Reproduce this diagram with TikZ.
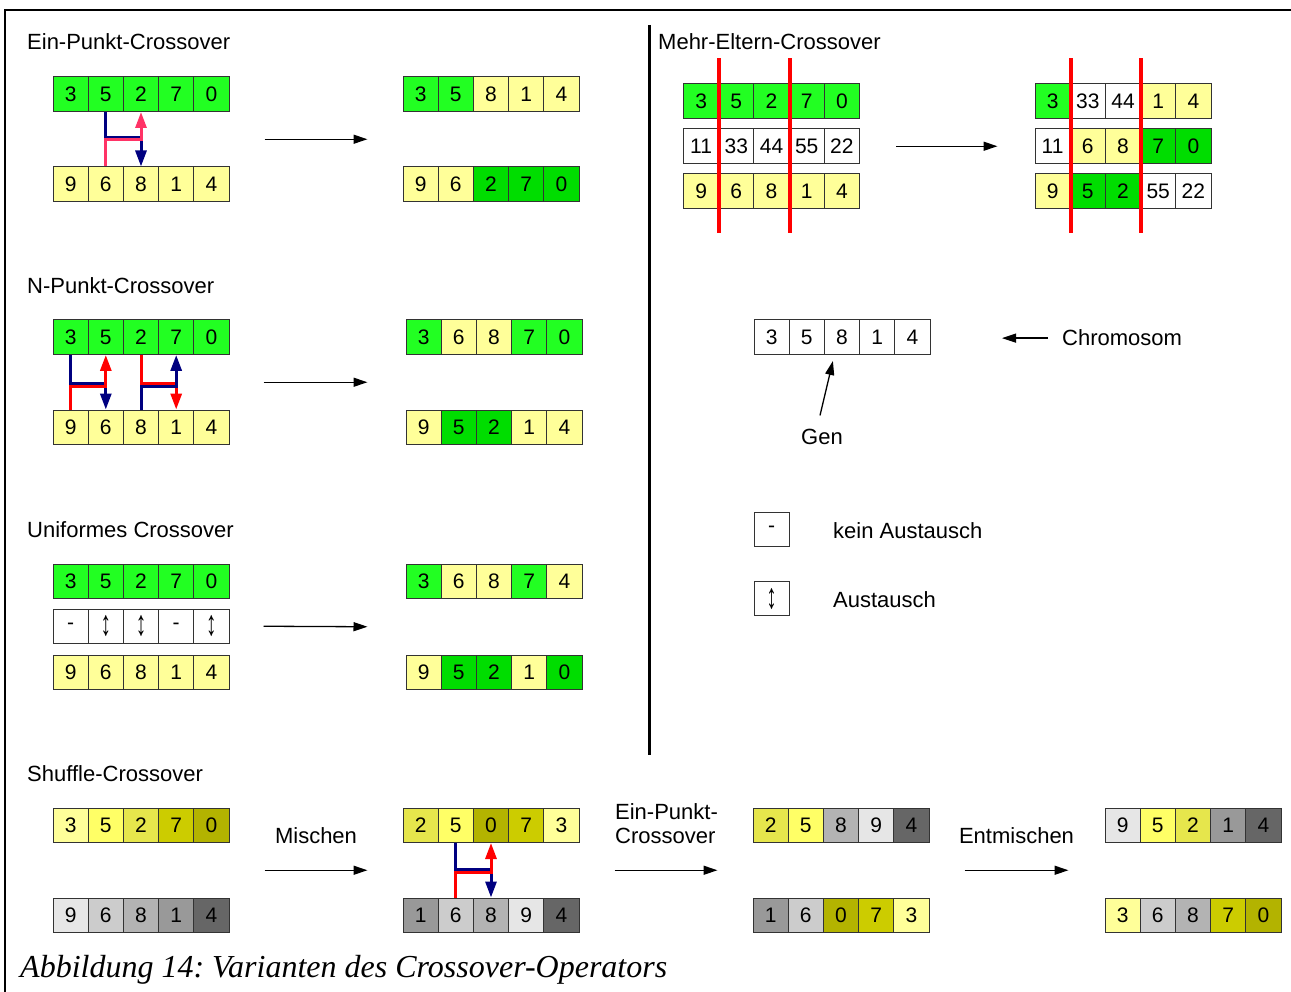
\documentclass[tikz,border=0pt]{standalone}
\usepackage{fontspec}
\setmainfont{Liberation Sans}
\newfontfamily\captionserif{Liberation Serif}
\usepackage{tikz}
\usetikzlibrary{arrows.meta, calc}
\definecolor{gn}{HTML}{22FF22}
\definecolor{dg}{HTML}{00DD00}
\definecolor{yl}{HTML}{FFFF99}
\definecolor{wt}{HTML}{FFFFFF}
\definecolor{xblue}{HTML}{000080}
\definecolor{xpink}{HTML}{FF3366}
\definecolor{xred}{HTML}{FF0000}
% shuffle shades: yellows of parent 1, greys of parent 2
\definecolor{y1}{HTML}{FFFF99}
\definecolor{y2}{HTML}{FFFF66}
\definecolor{y3}{HTML}{E6E64C}
\definecolor{y4}{HTML}{CCCC00}
\definecolor{y5}{HTML}{B3B300}
\definecolor{g1}{HTML}{E6E6E6}
\definecolor{g2}{HTML}{CCCCCC}
\definecolor{g3}{HTML}{B3B3B3}
\definecolor{g4}{HTML}{999999}
\definecolor{g5}{HTML}{666666}
\tikzset{
  gene/.style={draw=black!80, line width=1pt, minimum width=35.2pt,
    minimum height=34.5pt, inner sep=0pt, font=\fontsize{21}{24}\selectfont},
  heading/.style={anchor=base west, inner sep=0pt, font=\fontsize{22}{24}\selectfont},
  steplabel/.style={inner sep=0pt, font=\fontsize{22}{24}\selectfont},
  flow/.style={line width=1.3pt, -{Triangle[length=14pt,width=9pt]}},
  swapline/.style={line width=3pt, -{Triangle[length=16pt,width=11pt]}},
  cut/.style={xred, line width=4pt},
}
\newcommand{\updown}{\scalebox{1}[1.7]{↕}}
\newcommand{\chrom}[4]{% name, x-left, y-top, {colour/value, ...}
  \foreach \cl/\vl [count=\i] in {#4}
    \node[gene, fill=\cl] (#1-\i) at (#2+35.2*\i-17.6, #3+17.25) {\vl};
}

\begin{document}
\begin{tikzpicture}[x=1pt, y=-1pt]
  \useasboundingbox (0,0) rectangle (1291,992);
  \draw[line width=1.5pt] (5,992) -- (5,10) -- (1291,10);
  \draw[line width=3pt] (649,25) -- (649,755);

  % Ein-Punkt-Crossover
  \node[heading] (t-ep) at (27,50) {Ein-Punkt-Crossover};
  \chrom{ep1}{53}{77}{gn/3,gn/5,gn/2,gn/7,gn/0}
  \chrom{ep2}{53}{167}{yl/9,yl/6,yl/8,yl/1,yl/4}
  \chrom{ep3}{403}{77}{gn/3,gn/5,yl/8,yl/1,yl/4}
  \chrom{ep4}{403}{167}{yl/9,yl/6,dg/2,dg/7,dg/0}
  \draw[swapline, xblue] (ep1-2.south) |- ([yshift=-26pt]ep1-3.south) -- (ep2-3.north);
  \draw[swapline, xpink] (ep2-2.north) |- ([yshift=27pt]ep2-3.north) -- (ep1-3.south);
  \draw[flow] ($(ep1-5.east)!.5!(ep2-5.east)+(35,0)$) -- ($(ep3-1.west)!.5!(ep4-1.west)+(-35,0)$);

  % N-Punkt-Crossover, two cut points
  \node[heading] (t-np) at (27,294) {N-Punkt-Crossover};
  \chrom{np1}{53}{320}{gn/3,gn/5,gn/2,gn/7,gn/0}
  \chrom{np2}{53}{410}{yl/9,yl/6,yl/8,yl/1,yl/4}
  \chrom{np3}{406}{320}{gn/3,yl/6,yl/8,gn/7,gn/0}
  \chrom{np4}{406}{410}{yl/9,dg/5,dg/2,yl/1,yl/4}
  \draw[swapline, xblue] (np1-1.south) |- ([yshift=-29pt]np1-2.south) -- (np2-2.north);
  \draw[swapline, xred] (np2-1.north) |- ([yshift=23pt]np2-2.north) -- (np1-2.south);
  \draw[swapline, xred] (np1-3.south) |- ([yshift=-29pt]np1-4.south) -- (np2-4.north);
  \draw[swapline, xblue] (np2-3.north) |- ([yshift=23pt]np2-4.north) -- (np1-4.south);
  \draw[flow] ($(np1-5.east)!.5!(np2-5.east)+(34,0)$) -- ($(np3-1.west)!.5!(np4-1.west)+(-38,0)$);

  % Uniformes Crossover with mask row
  \node[heading] (t-uc) at (27,537) {Uniformes Crossover};
  \chrom{uc1}{53}{564}{gn/3,gn/5,gn/2,gn/7,gn/0}
  \chrom{ucm}{53}{609}{wt/-,wt/\updown,wt/\updown,wt/-,wt/\updown}
  \chrom{uc2}{53}{655}{yl/9,yl/6,yl/8,yl/1,yl/4}
  \chrom{uc3}{406}{564}{gn/3,yl/6,yl/8,gn/7,yl/4}
  \chrom{uc4}{406}{655}{yl/9,dg/5,dg/2,yl/1,dg/0}
  \draw[flow] ($(ucm-5.east)+(34,0)$) -- ($(uc3-1.west)!.5!(uc4-1.west)+(-38,0)$);

  % Shuffle-Crossover: mix, cross, unmix
  \node[heading] (t-sc) at (27,781) {Shuffle-Crossover};
  \chrom{sc1}{53}{808}{y1/3,y2/5,y3/2,y4/7,y5/0}
  \chrom{sc2}{53}{898}{g1/9,g2/6,g3/8,g4/1,g5/4}
  \chrom{sc3}{403}{808}{y3/2,y2/5,y5/0,y4/7,y1/3}
  \chrom{sc4}{403}{898}{g4/1,g2/6,g3/8,g1/9,g5/4}
  \chrom{sc5}{753}{808}{y3/2,y2/5,g3/8,g1/9,g5/4}
  \chrom{sc6}{753}{898}{g4/1,g2/6,y5/0,y4/7,y1/3}
  \chrom{sc7}{1105}{808}{g1/9,y2/5,y3/2,g4/1,g5/4}
  \chrom{sc8}{1105}{898}{y1/3,g2/6,g3/8,y4/7,y5/0}
  \draw[swapline, xblue] (sc3-2.south) |- ([yshift=-26.5pt]sc3-3.south) -- (sc4-3.north);
  \draw[swapline, xred] (sc4-2.north) |- ([yshift=25pt]sc4-3.north) -- (sc3-3.south);
  \draw[flow] ($(sc1-5.east)!.5!(sc2-5.east)+(35,0)$)
    -- node[steplabel, above=26pt] (mix) {Mischen} ($(sc3-1.west)!.5!(sc4-1.west)+(-35,0)$);
  \draw[flow] ($(sc3-5.east)!.5!(sc4-5.east)+(35,0)$)
    node[steplabel, anchor=south west, yshift=26pt, align=left] (cross) {Ein-Punkt-\\Crossover}
    -- ($(sc5-1.west)!.5!(sc6-1.west)+(-35,0)$);
  \draw[flow] ($(sc5-5.east)!.5!(sc6-5.east)+(35,0)$)
    -- node[steplabel, above=26pt] (unmix) {Entmischen} ($(sc7-1.west)!.5!(sc8-1.west)+(-36,0)$);

  % Mehr-Eltern-Crossover, three parents
  \node[heading] (t-me) at (658,50) {Mehr-Eltern-Crossover};
  \chrom{me1}{683.5}{84}{gn/3,gn/5,gn/2,gn/7,gn/0}
  \chrom{me2}{683.5}{129}{wt/11,wt/33,wt/44,wt/55,wt/22}
  \chrom{me3}{683.5}{174}{yl/9,yl/6,yl/8,yl/1,yl/4}
  \chrom{me4}{1035}{84}{gn/3,wt/33,wt/44,yl/1,yl/4}
  \chrom{me5}{1035}{129}{wt/11,yl/6,yl/8,dg/7,dg/0}
  \chrom{me6}{1035}{174}{yl/9,dg/5,dg/2,wt/55,wt/22}
  \foreach \tp/\bt in {me1-1/me3-1, me1-3/me3-3, me4-1/me6-1, me4-3/me6-3}
    \draw[cut] ($(\tp.north east)+(0,-25)$) -- ($(\bt.south east)+(0,24)$);
  \draw[flow] ($(me2-5.east)+(36,0)$) -- ($(me5-1.west)+(-37,0)$);

  % legend
  \chrom{lg}{754}{320}{wt/3,wt/5,wt/8,wt/1,wt/4}
  \node[heading] (chromo) at (1062,346) {Chromosom};
  \draw[flow] ($(chromo.west)+(-14,0)$) -- ($(chromo.west)+(-60,0)$);
  \node[heading, anchor=base] (gen) at (822,444) {Gen};
  \draw[flow] ($(gen.north)+(-2,-13)$) -- ($(lg-3.south west)+(9,6)$);
  \node[gene, fill=white] (nokey) at (771.6,529.5) {-};
  \node[gene, fill=white] (yeskey) at (771.6,598.5) {\updown};
  \node[heading] (t-no) at (833,538) {kein Austausch};
  \node[heading] (t-yes) at (833,607) {Austausch};

  \node[anchor=base west, inner sep=0pt,
    font={\captionserif\itshape\fontsize{32}{36}\selectfont}] (caption)
    at (20,977) {Abbildung 14:\ Varianten des Crossover-Operators};
\end{tikzpicture}
\end{document}
